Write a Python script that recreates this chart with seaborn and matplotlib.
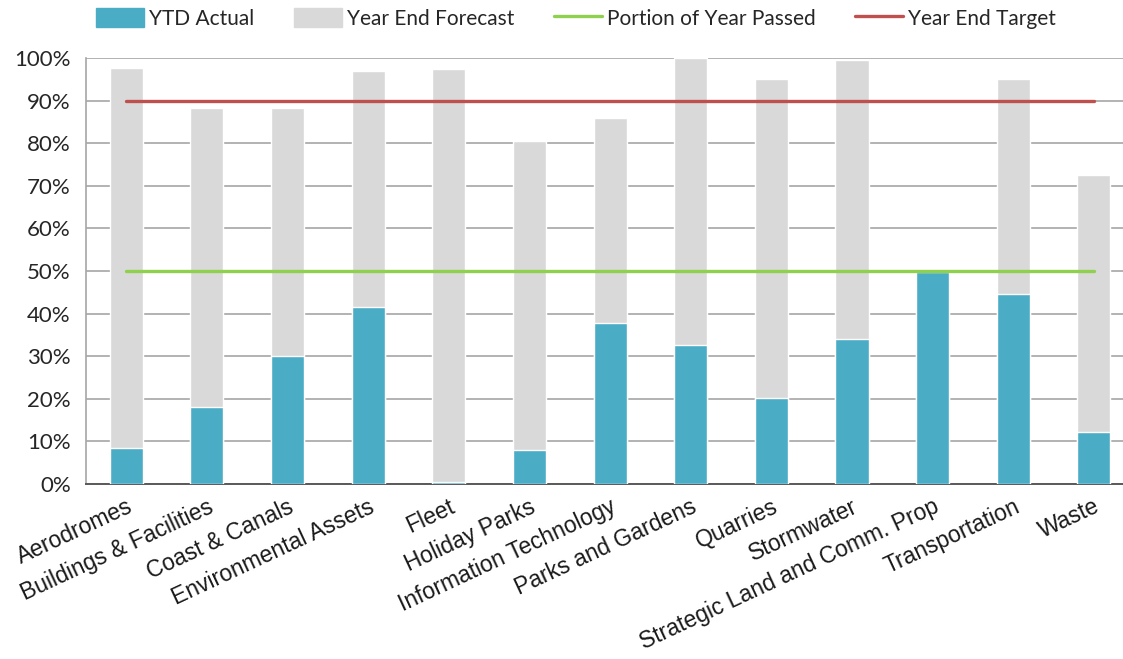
import numpy as np
import pandas as pd
import seaborn as sns
import matplotlib.pyplot as plt
from matplotlib.patches import Patch
from matplotlib.lines import Line2D
from matplotlib.ticker import PercentFormatter, FixedLocator

# Chart data
categories = ['Aerodromes', 'Buildings & Facilities', 'Coast & Canals', 'Environmental Assets',
              'Fleet', 'Holiday Parks', 'Information Technology', 'Parks and Gardens',
              'Quarries', 'Stormwater', 'Strategic Land and Comm. Prop', 'Transportation', 'Waste']
ytd_actual = [8.5, 18.1, 30.0, 41.5, 0.5, 8.0, 37.7, 32.6, 20.1, 34.0, 49.8, 44.6, 12.2]
year_end_forecast = [97.7, 88.2, 88.2, 96.9, 97.3, 80.4, 85.8, 100.0, 95.1, 99.5, 50.0, 95.1, 72.5]
portion_passed = 50.0
year_end_target = 90.0

df = pd.DataFrame({'category': categories, 'actual': ytd_actual, 'forecast': year_end_forecast})

blue = '#4bacc6'
grey = '#d9d9d9'
green = '#8fd14f'
red = '#c0504d'

sns.set_style('white')
fig = plt.figure(figsize=(11.23, 6.59), dpi=100)
# plot area runs slightly past the right edge of the image, as in the reference
ax = fig.add_axes([0.0766, 0.2656, 0.9334, 0.6464])

# Forecast drawn behind, actual on top
sns.barplot(data=df, x='category', y='forecast', color=grey, width=0.41, saturation=1, ax=ax, zorder=2)
sns.barplot(data=df, x='category', y='actual', color=blue, width=0.41, saturation=1, ax=ax, zorder=3)

pos = np.arange(len(categories))
ax.plot(pos, [portion_passed] * len(pos), color=green, lw=2.4, zorder=4)
ax.plot(pos, [year_end_target] * len(pos), color=red, lw=2.4, zorder=4)

ax.set_xlim(-0.5, len(categories) - 0.5)
ax.set_ylim(0, 100)
ax.set_yticks(np.arange(0, 101, 10))
ax.yaxis.set_major_formatter(PercentFormatter(decimals=0))
ax.grid(axis='y', color='#a6a6a6', lw=1.2, zorder=0)
ax.set_axisbelow(True)
ax.set_xlabel('')
ax.set_ylabel('')

for s in ['top', 'right']:
    ax.spines[s].set_visible(False)
ax.spines['left'].set_color('#a6a6a6')
ax.spines['left'].set_linewidth(1.2)
ax.spines['bottom'].set_color('#595959')
ax.spines['bottom'].set_linewidth(1.4)

ax.tick_params(axis='y', length=6, color='#a6a6a6', width=1.2, labelsize=16, pad=5)
ax.tick_params(axis='x', which='major', length=0, pad=8)
ax.xaxis.set_minor_locator(FixedLocator(np.arange(-0.5, len(categories), 1.0)))
ax.tick_params(axis='x', which='minor', length=7, color='#595959', width=1.4)

for lbl in ax.get_yticklabels():
    lbl.set_family(['Lato', 'DejaVu Sans'])
    lbl.set_color('#262626')
ax.set_xticks(pos)
ax.set_xticklabels(categories, rotation=25, ha='right', rotation_mode='anchor',
                   fontsize=16.5, family=['Liberation Sans', 'DejaVu Sans'], color='#1a1a1a')

handles = [Patch(color=blue), Patch(color=grey),
           Line2D([], [], color=green, lw=2.4), Line2D([], [], color=red, lw=2.4)]
labels = ['YTD Actual', 'Year End Forecast', 'Portion of Year Passed', 'Year End Target']
fig.legend(handles, labels, loc='center', bbox_to_anchor=(0.513, 0.972), ncol=4, frameon=False,
           prop={'family': ['Lato', 'DejaVu Sans'], 'size': 15},
           handlelength=2.3, handleheight=1.0, columnspacing=1.9, handletextpad=0.25)

fig.savefig('out.png', dpi=100)
